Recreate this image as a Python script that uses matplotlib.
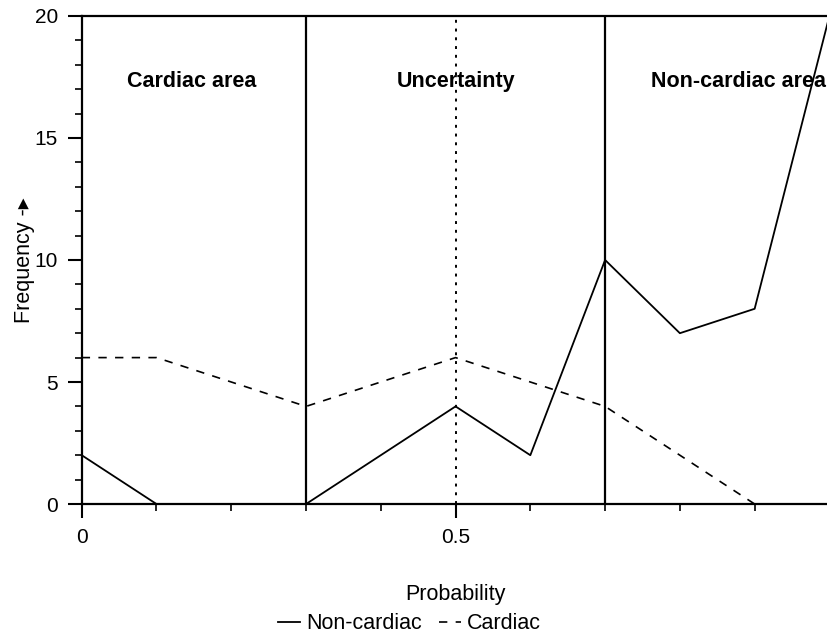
import numpy as np
import matplotlib.pyplot as plt
from matplotlib.ticker import MultipleLocator, FixedLocator

plt.rcParams['font.family'] = ['Liberation Sans', 'DejaVu Sans']

# frequency of each probability class
probability = [0.0, 0.1, 0.2, 0.3, 0.4, 0.5, 0.6, 0.7, 0.8, 0.9, 1.0]
non_cardiac = [2, 0, 0, 0, 2, 4, 2, 10, 7, 8, 20]
cardiac = [6, 6, 5, 4, 5, 6, 5, 4, 2, 0, 0]

# area boundaries and labels
bounds = [0.3, 0.7]
midline = 0.5
area_names = ["Cardiac area", "Uncertainty", "Non-cardiac area"]
area_x = [0.147, 0.5, 0.878]

fig = plt.figure(figsize=(8.28, 6.38), dpi=100)
ax = fig.add_axes([0.0987, 0.21, 0.903, 0.765])

ax.plot(probability, non_cardiac, color='black', lw=1.3, label='Non-cardiac', clip_on=False)
ax.plot(probability, cardiac, color='black', lw=1.2, ls=(0, (5, 5)), label='Cardiac')

for b in bounds:
    ax.axvline(b, color='black', lw=1.6)
ax.axvline(midline, color='black', lw=1.4, ls=(0, (1.5, 3)))

for name, x in zip(area_names, area_x):
    ax.text(x, 17.3, name, ha='center', va='center', fontsize=15.5, fontweight='bold')

ax.set_xlim(0, 1.0)
ax.set_ylim(0, 20)
ax.spines['right'].set_visible(False)
for s in ['left', 'bottom', 'top']:
    ax.spines[s].set_linewidth(1.6)

ax.xaxis.set_major_locator(FixedLocator([0, 0.5, 1.0]))
ax.xaxis.set_minor_locator(MultipleLocator(0.1))
ax.set_xticklabels(['0', '0.5', ''])
ax.yaxis.set_major_locator(MultipleLocator(5))
ax.yaxis.set_minor_locator(MultipleLocator(1))
ax.tick_params(which='major', direction='out', length=10, width=1.5, labelsize=15, pad=7)
ax.tick_params(which='minor', direction='out', length=5, width=1.2)

ax.set_xlabel('Probability', fontsize=15.5, labelpad=27)
ax.set_ylabel('Frequency -\u25b8', fontsize=15.5, labelpad=0)

fig.legend(loc='center', bbox_to_anchor=(0.495, 0.022), ncol=2, frameon=False,
           fontsize=15.5, handlelength=1.0, handletextpad=0.3, columnspacing=0.8,
           borderpad=0.2)

fig.savefig('out.png', dpi=100)
